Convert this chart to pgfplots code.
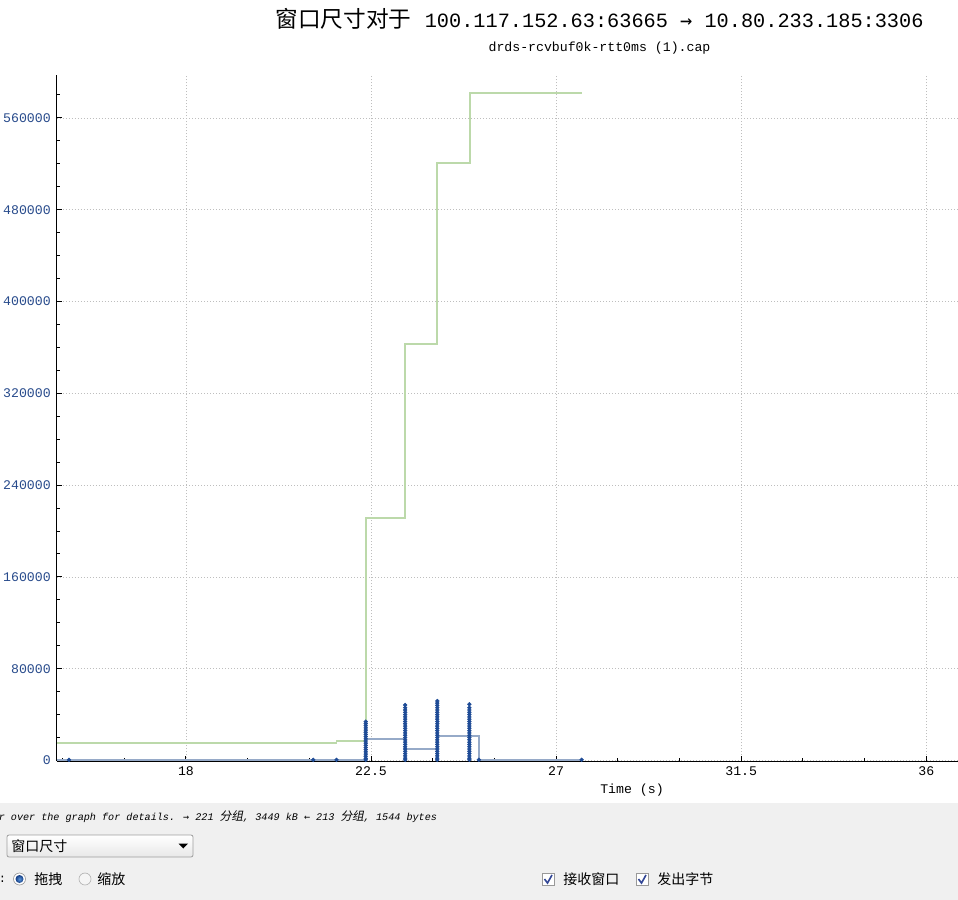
\documentclass[border=0pt]{standalone}
\usepackage{fontspec}
\usepackage{pgfplots}
\usepackage{pgfplotstable}
\pgfplotsset{compat=1.18}
\setmainfont{Liberation Mono}
\newfontfamily\mono{Liberation Mono}
\newfontfamily\cjk{Noto Sans CJK SC}
\newfontfamily\cjki[FakeSlant=0.2]{Noto Sans CJK SC}
\newfontfamily\sym{DejaVu Sans Mono}
\definecolor{markblue}{RGB}{30,75,150}
\definecolor{blueline}{RGB}{150,170,200}
\definecolor{greenline}{RGB}{188,217,170}
\definecolor{tickblue}{RGB}{40,75,140}
\definecolor{gridgray}{RGB}{190,190,190}
\definecolor{panel}{RGB}{240,240,240}
\definecolor{radioin}{RGB}{90,150,220}
\definecolor{radioout}{RGB}{20,60,130}
\definecolor{checkblue}{RGB}{50,70,150}

% bytes out: connecting line
\pgfplotstableread{
x y
14.864 600
22.37 600
22.37 33800
22.37 18740
23.33 18740
23.33 0
23.33 48370
23.33 10020
24.11 10020
24.11 0
24.11 51850
24.11 21350
24.89 21350
24.89 0
24.89 48980
24.89 21350
25.12 21350
25.12 600
27.62 600
}\blueline

% bytes out: packet points
\pgfplotstableread{
x y
15.155 600
21.095 600
21.66 600
22.37 600
22.37 1800
22.37 3700
22.37 5600
22.37 7500
22.37 9400
22.37 11300
22.37 13200
22.37 15100
22.37 17000
22.37 18900
22.37 20800
22.37 22700
22.37 24600
22.37 26500
22.37 28400
22.37 30300
22.37 32100
22.37 33800
23.33 600
23.33 2000
23.33 4000
23.33 6000
23.33 8000
23.33 10000
23.33 12000
23.33 14000
23.33 16000
23.33 18000
23.33 20000
23.33 22000
23.33 24000
23.33 26000
23.33 28000
23.33 30000
23.33 32000
23.33 34000
23.33 36000
23.33 38000
23.33 40000
23.33 42000
23.33 44000
23.33 46000
23.33 48370
24.11 600
24.11 2000
24.11 4000
24.11 6000
24.11 8000
24.11 10000
24.11 12000
24.11 14000
24.11 16000
24.11 18000
24.11 20000
24.11 22000
24.11 24000
24.11 26000
24.11 28000
24.11 30000
24.11 32000
24.11 34000
24.11 36000
24.11 38000
24.11 40000
24.11 42000
24.11 44000
24.11 46000
24.11 48000
24.11 50000
24.11 51850
24.89 600
24.89 2000
24.89 4000
24.89 6000
24.89 8000
24.89 10000
24.89 12000
24.89 14000
24.89 16000
24.89 18000
24.89 20000
24.89 22000
24.89 24000
24.89 26000
24.89 28000
24.89 30000
24.89 32000
24.89 34000
24.89 36000
24.89 38000
24.89 40000
24.89 42000
24.89 44000
24.89 46000
24.89 48980
25.12 600
27.62 600
}\bluemarks

% receive window
\pgfplotstableread{
x y
14.864 15500
21.66 16700
22.37 211600
23.33 363000
24.11 520400
24.905 581400
27.62 581400
}\greendata

\begin{document}
\begin{tikzpicture}
\fill[white] (0,0) rectangle (718.5pt,-675pt);
\begin{axis}[
  at={(42.75pt,-570.75pt)}, anchor=south west,
  scale only axis, width=675.75pt, height=514.5pt,
  xmin=14.864, xmax=36.77, ymin=-450, ymax=597400,
  axis x line=bottom, axis y line=left,
  axis line style={-, line width=0.75pt, black},
  xtick={18,22.5,27,31.5,36},
  xticklabels={18,22.5,27,31.5,36},
  minor xtick={15,16.5,19.5,21,24,25.5,28.5,30,33,34.5},
  ytick={0,80000,160000,240000,320000,400000,480000,560000},
  yticklabels={0,80000,160000,240000,320000,400000,480000,560000},
  minor ytick={20000,40000,60000,100000,120000,140000,180000,200000,220000,260000,280000,300000,340000,360000,380000,420000,440000,460000,500000,520000,540000,580000},
  scaled ticks=false,
  grid=major,
  major grid style={gridgray, line width=0.6pt, dash pattern=on 0.75pt off 1.5pt},
  tick style={black, line width=0.75pt},
  major tick length=3.75pt, minor tick length=2.25pt,
  tick align=inside,
  yticklabel style={font=\mono\fontsize{9.9}{11}\selectfont, text=tickblue, inner sep=0pt, xshift=-4.5pt},
  xticklabel style={font=\mono\fontsize{9.9}{11}\selectfont, text=black, inner sep=0pt, yshift=-4pt},
  clip=true,
]
\addplot[const plot, color=greenline, line width=1.3pt, no marks] table {\greendata};
\addplot[color=blueline, line width=1.3pt, no marks] table {\blueline};
\addplot[only marks, mark=*, mark size=1.4pt, mark options={fill=markblue, draw=markblue}] table {\bluemarks};
\end{axis}

\begin{scope}[x=0.75pt, y=-0.75pt]
% titles
\node[anchor=center] at (599.5,19) {{\cjk\fontsize{17}{20}\selectfont 窗口尺寸对于}\hspace{10pt}{\mono\fontsize{15.2}{18}\selectfont 100.117.152.63:63665 {\sym →} 10.80.233.185:3306}};
\node[anchor=center] at (599.5,48) {\mono\fontsize{9.9}{11}\selectfont drds-rcvbuf0k-rtt0ms (1).cap};
\node[anchor=center] at (632,790) {\mono\fontsize{9.9}{11}\selectfont Time (s)};
% bottom panel
\fill[panel] (0,803) rectangle (958,900);
\node[anchor=west, inner sep=0pt] at (-1.5,817) {\mono\itshape\fontsize{7.6}{9}\selectfont r over the graph for details. {\sym\fontsize{7.6}{9}\selectfont →} 221 {\cjki\fontsize{8.8}{9}\selectfont 分组}, 3449 kB {\sym\fontsize{7.6}{9}\selectfont ←} 213 {\cjki\fontsize{8.8}{9}\selectfont 分组}, 1544 bytes};
% combo box
\shade[top color=white, bottom color=gray!18, rounded corners=1.5pt] (7,835) rectangle (193,857);
\draw[gray!75, line width=0.6pt, rounded corners=1.5pt] (7,835) rectangle (193,857);
\node[anchor=west, inner sep=0pt] at (11,846) {\cjk\fontsize{10.5}{12}\selectfont 窗口尺寸};
\fill[black] (178.5,843.5) -- (188,843.5) -- (183.25,848.5) -- cycle;
% radio buttons
\node[anchor=west, inner sep=0pt] at (-1.5,879) {\mono\fontsize{9}{10}\selectfont :};
\draw[gray!80, fill=white, line width=0.5pt] (19.5,879) circle (6);
\shade[inner color=radioin, outer color=radioout] (19.5,879) circle (4);
\node[anchor=west, inner sep=0pt] at (34,879) {\cjk\fontsize{10.5}{12}\selectfont 拖拽};
\draw[gray!60, fill=gray!8, line width=0.5pt] (85,879) circle (6);
\node[anchor=west, inner sep=0pt] at (97,879) {\cjk\fontsize{10.5}{12}\selectfont 缩放};
% check boxes
\draw[gray!80, fill=white, line width=0.6pt] (542,873) rectangle (554,885);
\draw[checkblue, line width=1.2pt] (544.5,879) -- (547.5,883) -- (552,875);
\node[anchor=west, inner sep=0pt] at (563,879) {\cjk\fontsize{10.5}{12}\selectfont 接收窗口};
\draw[gray!80, fill=white, line width=0.6pt] (636,873) rectangle (648,885);
\draw[checkblue, line width=1.2pt] (638.5,879) -- (641.5,883) -- (646,875);
\node[anchor=west, inner sep=0pt] at (657,879) {\cjk\fontsize{10.5}{12}\selectfont 发出字节};
\end{scope}
\pgfresetboundingbox
\path[use as bounding box] (0,0) rectangle (718.5pt,-675pt);
\end{tikzpicture}
\end{document}
